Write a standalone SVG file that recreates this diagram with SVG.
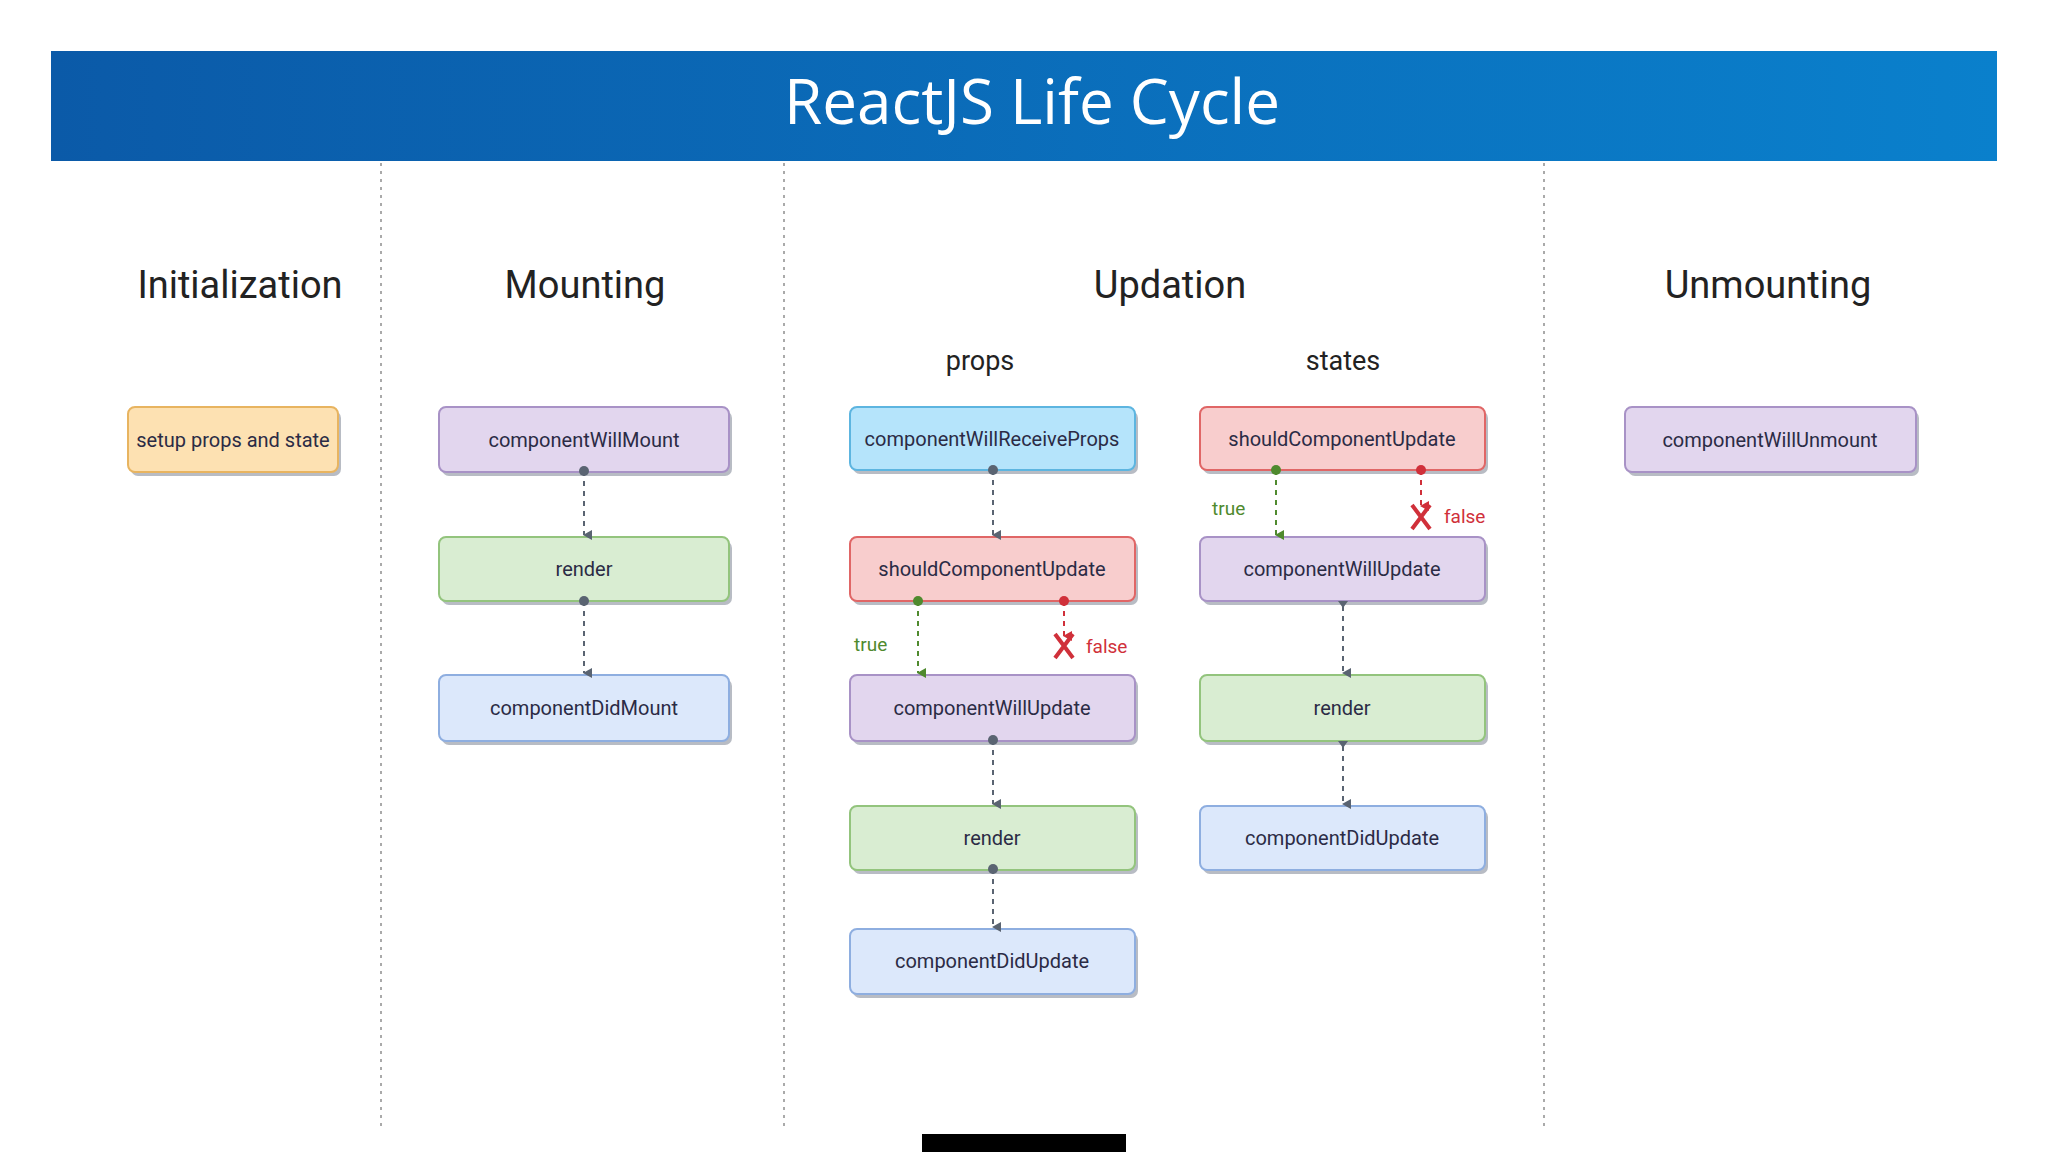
<svg xmlns="http://www.w3.org/2000/svg" width="2048" height="1152" viewBox="0 0 2048 1152">
<defs>
<linearGradient id="hdr" x1="0" y1="0" x2="1" y2="0"><stop offset="0" stop-color="#0b5aa8"/><stop offset="1" stop-color="#0a80cc"/></linearGradient>
<marker id="ag" markerWidth="10" markerHeight="10" refX="5" refY="8" orient="auto" markerUnits="userSpaceOnUse" viewBox="0 0 10 10"><path d="M0,0 L10,0 L5,9 Z" fill="#5a6472"/></marker>
<marker id="agr" markerWidth="10" markerHeight="10" refX="5" refY="8" orient="auto" markerUnits="userSpaceOnUse" viewBox="0 0 10 10"><path d="M0,0 L10,0 L5,9 Z" fill="#4f8a2e"/></marker>
<marker id="are" markerWidth="10" markerHeight="10" refX="5" refY="8" orient="auto" markerUnits="userSpaceOnUse" viewBox="0 0 10 10"><path d="M0,0 L10,0 L5,9 Z" fill="#d0303a"/></marker>
</defs>
<style>
.h{font-family:"Roboto","Liberation Sans",sans-serif;font-size:38px;fill:#222;text-anchor:middle}
.s{font-family:"Roboto","Liberation Sans",sans-serif;font-size:27px;fill:#222;text-anchor:middle}
.t{font-family:"Roboto","Liberation Sans",sans-serif;font-size:20px;fill:#2b2b45;text-anchor:middle}
.sh{fill:#b8bcc4}
.pu{fill:#e2d6ee;stroke:#a892c6;stroke-width:2}
.gr{fill:#d9edd2;stroke:#93c47d;stroke-width:2}
.bl{fill:#dce8fb;stroke:#8eaee0;stroke-width:2}
.cy{fill:#b5e4fb;stroke:#5db5e0;stroke-width:2}
.rd{fill:#f8cdcd;stroke:#e06666;stroke-width:2}
.or{fill:#fde1b2;stroke:#e8b460;stroke-width:2}
.c{stroke:#5a6472;stroke-width:2;stroke-dasharray:5,5;fill:none}
.cg{stroke:#4f8a2e;stroke-width:2;stroke-dasharray:5,5;fill:none}
.cr{stroke:#d0303a;stroke-width:2;stroke-dasharray:5,5;fill:none}
.div{stroke:#aaa;stroke-width:2;stroke-dasharray:3,5}
.lt{font-family:"Roboto","Liberation Sans",sans-serif;font-size:19px;fill:#4f8a2e}
.lf{font-family:"Roboto","Liberation Sans",sans-serif;font-size:19px;fill:#d0303a}
</style>
<rect width="2048" height="1152" fill="#fff"/>
<rect x="51" y="51" width="1946" height="110" fill="url(#hdr)"/>
<text x="1032" y="124" font-family="Open Sans, Liberation Sans, sans-serif" font-size="62" fill="#fff" text-anchor="middle">ReactJS Life Cycle</text>
<g id="dividers">
<line class="div" x1="381" y1="163" x2="381" y2="1130"/>
<line class="div" x1="784" y1="163" x2="784" y2="1130"/>
<line class="div" x1="1544" y1="163" x2="1544" y2="1130"/>
</g>
<g id="headings">
<text class="h" x="240" y="298">Initialization</text>
<text class="h" x="585" y="298">Mounting</text>
<text class="h" x="1170" y="298">Updation</text>
<text class="h" x="1768" y="298">Unmounting</text>
<text class="s" x="980" y="370">props</text>
<text class="s" x="1343" y="370">states</text>
</g>
<g id="n-setup"><rect class="sh" x="131" y="411" width="210" height="65" rx="7"/><rect class="or" x="128" y="407" width="210" height="65" rx="7"/><text class="t" x="233" y="447">setup props and state</text></g>
<g id="n-m1"><rect class="sh" x="442" y="411" width="290" height="65" rx="7"/><rect class="pu" x="439" y="407" width="290" height="65" rx="7"/><text class="t" x="584" y="447">componentWillMount</text></g>
<g id="n-m2"><rect class="sh" x="442" y="541" width="290" height="64" rx="7"/><rect class="gr" x="439" y="537" width="290" height="64" rx="7"/><text class="t" x="584" y="576">render</text></g>
<g id="n-m3"><rect class="sh" x="442" y="679" width="290" height="66" rx="7"/><rect class="bl" x="439" y="675" width="290" height="66" rx="7"/><text class="t" x="584" y="715">componentDidMount</text></g>
<g id="n-p1"><rect class="sh" x="853" y="411" width="285" height="63" rx="7"/><rect class="cy" x="850" y="407" width="285" height="63" rx="7"/><text class="t" x="992" y="446">componentWillReceiveProps</text></g>
<g id="n-p2"><rect class="sh" x="853" y="541" width="285" height="64" rx="7"/><rect class="rd" x="850" y="537" width="285" height="64" rx="7"/><text class="t" x="992" y="576">shouldComponentUpdate</text></g>
<g id="n-p3"><rect class="sh" x="853" y="679" width="285" height="66" rx="7"/><rect class="pu" x="850" y="675" width="285" height="66" rx="7"/><text class="t" x="992" y="715">componentWillUpdate</text></g>
<g id="n-p4"><rect class="sh" x="853" y="810" width="285" height="64" rx="7"/><rect class="gr" x="850" y="806" width="285" height="64" rx="7"/><text class="t" x="992" y="845">render</text></g>
<g id="n-p5"><rect class="sh" x="853" y="933" width="285" height="65" rx="7"/><rect class="bl" x="850" y="929" width="285" height="65" rx="7"/><text class="t" x="992" y="968">componentDidUpdate</text></g>
<g id="n-s1"><rect class="sh" x="1203" y="411" width="285" height="63" rx="7"/><rect class="rd" x="1200" y="407" width="285" height="63" rx="7"/><text class="t" x="1342" y="446">shouldComponentUpdate</text></g>
<g id="n-s2"><rect class="sh" x="1203" y="541" width="285" height="64" rx="7"/><rect class="pu" x="1200" y="537" width="285" height="64" rx="7"/><text class="t" x="1342" y="576">componentWillUpdate</text></g>
<g id="n-s3"><rect class="sh" x="1203" y="679" width="285" height="66" rx="7"/><rect class="gr" x="1200" y="675" width="285" height="66" rx="7"/><text class="t" x="1342" y="715">render</text></g>
<g id="n-s4"><rect class="sh" x="1203" y="810" width="285" height="64" rx="7"/><rect class="bl" x="1200" y="806" width="285" height="64" rx="7"/><text class="t" x="1342" y="845">componentDidUpdate</text></g>
<g id="n-u1"><rect class="sh" x="1628" y="411" width="291" height="65" rx="7"/><rect class="pu" x="1625" y="407" width="291" height="65" rx="7"/><text class="t" x="1770" y="447">componentWillUnmount</text></g>
<g id="connectors">
<circle cx="584" cy="471" r="5" fill="#5a6472"/><line class="c" x1="584" y1="471" x2="584" y2="535" marker-end="url(#ag)"/>
<circle cx="584" cy="601" r="5" fill="#5a6472"/><line class="c" x1="584" y1="601" x2="584" y2="673" marker-end="url(#ag)"/>
<circle cx="993" cy="470" r="5" fill="#5a6472"/><line class="c" x1="993" y1="470" x2="993" y2="535" marker-end="url(#ag)"/>
<circle cx="918" cy="601" r="5" fill="#4f8a2e"/><line class="cg" x1="918" y1="601" x2="918" y2="673" marker-end="url(#agr)"/>
<circle cx="1064" cy="601" r="5" fill="#d0303a"/><line class="cr" x1="1064" y1="601" x2="1064" y2="636" marker-end="url(#are)"/>
<path d="M1055,634 L1073,658 M1073,634 L1055,658" stroke="#d0303a" stroke-width="4" fill="none"/>
<text class="lt" x="854" y="651">true</text><text class="lf" x="1086" y="653">false</text>
<circle cx="993" cy="740" r="5" fill="#5a6472"/><line class="c" x1="993" y1="740" x2="993" y2="804" marker-end="url(#ag)"/>
<circle cx="993" cy="869" r="5" fill="#5a6472"/><line class="c" x1="993" y1="869" x2="993" y2="927" marker-end="url(#ag)"/>
<circle cx="1276" cy="470" r="5" fill="#4f8a2e"/><line class="cg" x1="1276" y1="470" x2="1276" y2="535" marker-end="url(#agr)"/>
<circle cx="1421" cy="470" r="5" fill="#d0303a"/><line class="cr" x1="1421" y1="470" x2="1421" y2="506" marker-end="url(#are)"/>
<path d="M1412,505 L1430,529 M1430,505 L1412,529" stroke="#d0303a" stroke-width="4" fill="none"/>
<text class="lt" x="1212" y="515">true</text><text class="lf" x="1444" y="523">false</text>
<path d="M1338,601 L1348,601 L1343,608 Z" fill="#5a6472"/><line class="c" x1="1343" y1="606" x2="1343" y2="673" marker-end="url(#ag)"/>
<path d="M1338,741 L1348,741 L1343,748 Z" fill="#5a6472"/><line class="c" x1="1343" y1="746" x2="1343" y2="804" marker-end="url(#ag)"/>
</g>
<rect x="922" y="1134" width="204" height="18" fill="#000"/>
</svg>
